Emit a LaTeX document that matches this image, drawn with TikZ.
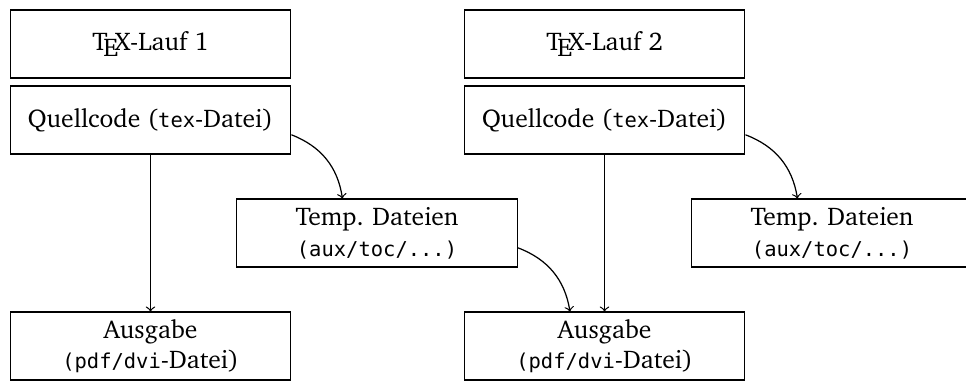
\documentclass[tikz,border=0pt]{standalone}
\usepackage{fontspec}
\newfontfamily\codefont[Scale=0.8]{DejaVu Sans Mono}
\usepackage[T1]{fontenc}
\usepackage{charter}
\usetikzlibrary{positioning}
\newcommand{\code}[1]{{\codefont #1}}

\begin{document}
\begin{tikzpicture}[line width=0.5pt,>=to,
    stepbox/.style={rectangle,draw=black,fill=white,minimum width=4.01cm,minimum height=0.97cm,inner sep=2pt,align=center,font=\fontsize{10.4}{12.4}\selectfont}]
  \useasboundingbox (0,0) rectangle (13.8,-5.443);
  \clip (0,0) rectangle (13.8,-5.443);
  \path

  (2.15,-0.629) node [stepbox] (lauf1) {\TeX-Lauf 1}
  (2.15,-1.714) node [stepbox] (src1) {Quellcode (\code{tex}-Datei)}
  (5.386,-3.329) node [stepbox] (tmp1) {Temp. Dateien\\\code{(aux/toc/...)}}
  (2.15,-4.943) node [stepbox] (out1) {Ausgabe\\\code{(pdf/dvi}-Datei)}

  (8.636,-0.629) node [stepbox] (lauf2) {\TeX-Lauf 2}
  (8.636,-1.714) node [stepbox] (src2) {Quellcode (\code{tex}-Datei)}
  (11.886,-3.329) node [stepbox] (tmp2) {Temp. Dateien\\\code{(aux/toc/...)}}
  (8.636,-4.943) node [stepbox] (out2) {Ausgabe\\\code{(pdf/dvi}-Datei)}
  ;
  \draw[->] (src1) -- (out1);
  \draw[->] (src1.-6) to [bend left] (tmp1.135);
  \draw[->] (tmp1.-6) to [bend left] (out2.135);
  \draw[->] (src2) -- (out2);
  \draw[->] (src2.-6) to [bend left] (tmp2.135);
\end{tikzpicture}
\end{document}
